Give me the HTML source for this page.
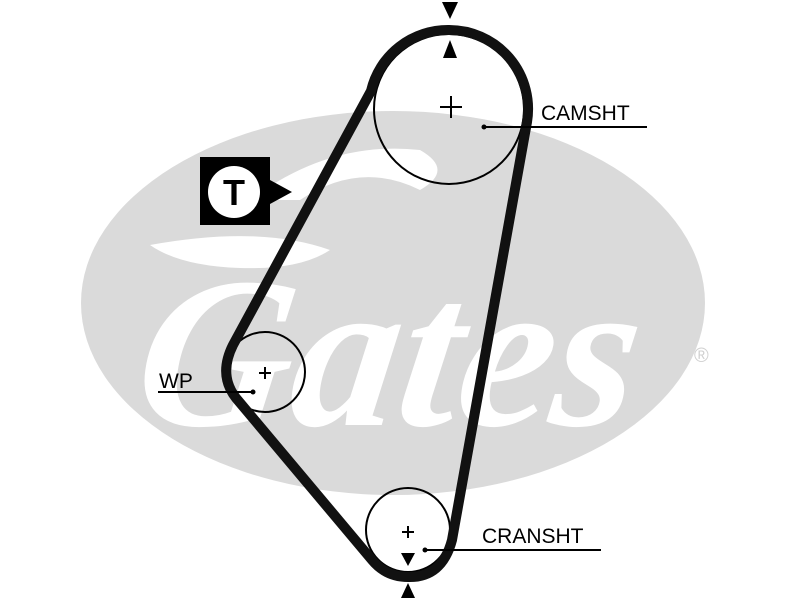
<!DOCTYPE html>
<html><head><meta charset="utf-8"><style>
html,body{margin:0;padding:0;background:#fff;}
svg{display:block;}
</style></head><body>
<svg width="800" height="600" viewBox="0 0 800 600" xmlns="http://www.w3.org/2000/svg">
<ellipse cx="393" cy="303" rx="312" ry="192" fill="#dadada"/>
<!-- white logo swoosh -->
<path d="M150 245 Q260 225 330 250 Q300 270 240 268 Q180 266 150 245 Z" fill="#fff"/>
<path d="M250 200 Q330 140 420 150 Q455 170 420 190 Q360 160 300 200 Z" fill="#fff"/>
<text x="150" y="425" font-family="Liberation Serif, serif" font-style="italic" font-weight="bold" font-size="215" fill="#fff" transform="skewX(-8) translate(40,0)" textLength="500" lengthAdjust="spacingAndGlyphs">Gates</text>
<text x="694" y="362" font-family="Liberation Sans, sans-serif" font-size="20" fill="#d0d0d0">®</text>
<!-- pulleys -->
<circle cx="449" cy="109" r="75" fill="none" stroke="#000" stroke-width="2"/>
<circle cx="265" cy="372" r="40" fill="none" stroke="#000" stroke-width="2"/>
<circle cx="408" cy="530" r="42" fill="none" stroke="#000" stroke-width="2"/>
<!-- belt -->
<path d="M371 91 A79 79 0 0 1 449 30 A79 79 0 0 1 527 122 L452 540 Q442 578 408 577 Q386 577 372 560 L236 398 Q218 375 233 345 Z" fill="none" stroke="#111" stroke-width="10" stroke-linejoin="round"/>
<!-- plus signs -->
<g stroke="#000" stroke-width="2">
<line x1="440" y1="107" x2="462" y2="107"/><line x1="451" y1="96" x2="451" y2="118"/>
<line x1="259" y1="373" x2="271" y2="373"/><line x1="265" y1="367" x2="265" y2="379"/>
<line x1="402" y1="532" x2="414" y2="532"/><line x1="408" y1="526" x2="408" y2="538"/>
</g>
<!-- leader lines -->
<g stroke="#000" stroke-width="2">
<line x1="484" y1="127" x2="647" y2="127"/>
<line x1="158" y1="392" x2="253" y2="392"/>
<line x1="425" y1="550" x2="601" y2="550"/>
</g>
<circle cx="484" cy="127" r="2.5"/><circle cx="253" cy="392" r="2.5"/><circle cx="425" cy="550" r="2.5"/>
<g font-family="Liberation Sans, sans-serif" font-size="21" fill="#000">
<text x="541" y="120">CAMSHT</text>
<text x="159" y="388">WP</text>
<text x="482" y="543">CRANSHT</text>
</g>
<!-- triangles -->
<polygon points="442,2 458,2 450,19"/>
<polygon points="443,58 457,58 450,40"/>
<polygon points="401,553 415,553 408,566"/>
<polygon points="401,598 415,598 408,583"/>
<!-- T box -->
<polygon points="200,157 270,157 270,180 292,192 270,204 270,225 200,225"/>
<circle cx="234" cy="192" r="26" fill="#fff"/>
<text x="234" y="205" text-anchor="middle" font-family="Liberation Sans, sans-serif" font-weight="bold" font-size="36">T</text>
</svg>
</body></html>
